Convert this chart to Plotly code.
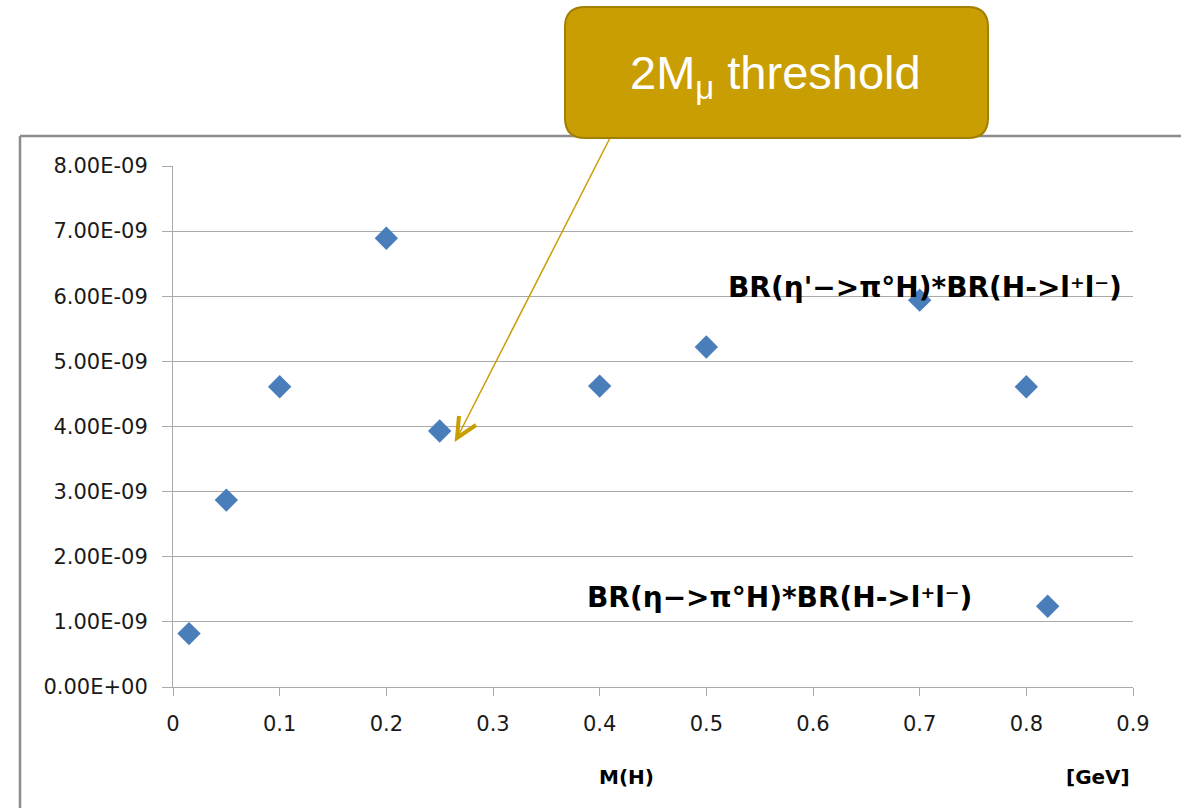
import plotly.graph_objects as go

# Branching-ratio estimates versus the mass of H
mass_gev = [0.015, 0.05, 0.1, 0.2, 0.25, 0.4, 0.5, 0.7, 0.8, 0.82]
branching = [0.82e-9, 2.87e-9, 4.61e-9, 6.89e-9, 3.93e-9,
             4.62e-9, 5.22e-9, 5.94e-9, 4.61e-9, 1.24e-9]

y_tick_vals = [0, 1e-9, 2e-9, 3e-9, 4e-9, 5e-9, 6e-9, 7e-9, 8e-9]
y_tick_text = ["0.00E+00", "1.00E-09", "2.00E-09", "3.00E-09", "4.00E-09",
               "5.00E-09", "6.00E-09", "7.00E-09", "8.00E-09"]
x_tick_vals = [0, 0.1, 0.2, 0.3, 0.4, 0.5, 0.6, 0.7, 0.8, 0.9]
x_tick_text = ["0", "0.1", "0.2", "0.3", "0.4", "0.5", "0.6", "0.7", "0.8", "0.9"]

W, H = 1181, 808


def px(x):
    return x / W


def py(y):
    return 1 - y / H


GOLD = "#C99E02"
GOLD_EDGE = "#A27F00"
GRID = "#A9A9A9"
FRAME = "#8C8C8C"

fig = go.Figure()
fig.add_trace(go.Scatter(
    x=mass_gev, y=branching, mode="markers",
    marker=dict(symbol="diamond", size=18, color="#4A7EBB",
                line=dict(width=0)),
    showlegend=False, hoverinfo="x+y",
))

tick_font = dict(family="DejaVu Sans", size=21, color="#1a1a1a")

fig.update_layout(
    width=W, height=H,
    margin=dict(l=0, r=0, t=0, b=0, autoexpand=False),
    paper_bgcolor="white", plot_bgcolor="white",
    xaxis=dict(
        domain=[px(173), px(1133)], range=[0, 0.9], automargin=False,
        tickvals=x_tick_vals, ticktext=x_tick_text,
        showgrid=False, zeroline=False,
        showline=True, linecolor=GRID, linewidth=1,
        ticks="outside", ticklen=8, tickcolor=GRID, tickwidth=1,
        tickfont=tick_font, ticklabelstandoff=10,
    ),
    yaxis=dict(
        domain=[py(687), py(166)], range=[0, 8e-9], automargin=False,
        tickvals=y_tick_vals, ticktext=y_tick_text,
        showgrid=True, gridcolor=GRID, gridwidth=1, zeroline=False,
        showline=True, linecolor=GRID, linewidth=1,
        ticks="outside", ticklen=10, tickcolor=GRID, tickwidth=1,
        tickfont=tick_font, ticklabelstandoff=10,
    ),
)

# Chart-area frame (left and top edges)
fig.add_shape(type="line", xref="paper", yref="paper",
              x0=px(20), y0=py(136), x1=px(1181), y1=py(136),
              line=dict(color=FRAME, width=2.5), layer="below")
fig.add_shape(type="line", xref="paper", yref="paper",
              x0=px(20), y0=py(136), x1=px(20), y1=py(808),
              line=dict(color=FRAME, width=2.5), layer="below")

# Callout pointer line and open arrowhead
fig.add_shape(type="line", xref="paper", yref="paper",
              x0=px(610), y0=py(138), x1=px(457), y1=py(438),
              line=dict(color=GOLD, width=1.5))
fig.add_shape(type="path", xref="paper", yref="paper",
              path=(f"M {px(459)},{py(416)} L {px(457)},{py(438)} "
                    f"L {px(476)},{py(425)}"),
              line=dict(color=GOLD, width=4))

# Rounded callout box
x0, x1, y0, y1, r = 565, 988, 7, 138, 20
path = (
    f"M {px(x0 + r)},{py(y0)} L {px(x1 - r)},{py(y0)} "
    f"Q {px(x1)},{py(y0)} {px(x1)},{py(y0 + r)} "
    f"L {px(x1)},{py(y1 - r)} "
    f"Q {px(x1)},{py(y1)} {px(x1 - r)},{py(y1)} "
    f"L {px(x0 + r)},{py(y1)} "
    f"Q {px(x0)},{py(y1)} {px(x0)},{py(y1 - r)} "
    f"L {px(x0)},{py(y0 + r)} "
    f"Q {px(x0)},{py(y0)} {px(x0 + r)},{py(y0)} Z"
)
fig.add_shape(type="path", xref="paper", yref="paper", path=path,
              fillcolor=GOLD, line=dict(color=GOLD_EDGE, width=2))

fig.add_annotation(
    xref="paper", yref="paper", x=px(775), y=py(76),
    text="2M<sub>μ</sub> threshold", showarrow=False,
    xanchor="center", yanchor="middle",
    font=dict(family="Liberation Sans", size=47, color="white"),
)

label_font = dict(family="DejaVu Sans", size=28, color="black", weight="bold")
fig.add_annotation(
    xref="paper", yref="paper", x=px(726), y=py(287),
    text="BR(η'−>π°H)*BR(H->l⁺l⁻)",
    showarrow=False, xanchor="left", yanchor="middle", font=label_font,
)
fig.add_annotation(
    xref="paper", yref="paper", x=px(585), y=py(597),
    text="BR(η−>π°H)*BR(H->l⁺l⁻)",
    showarrow=False, xanchor="left", yanchor="middle", font=label_font,
)

axis_title_font = dict(family="DejaVu Sans", size=20, color="black",
                       weight="bold")
fig.add_annotation(xref="paper", yref="paper", x=px(626), y=py(777),
                   text="M(H)", showarrow=False,
                   xanchor="center", yanchor="middle", font=axis_title_font)
fig.add_annotation(xref="paper", yref="paper", x=px(1098), y=py(777),
                   text="[GeV]", showarrow=False,
                   xanchor="center", yanchor="middle", font=axis_title_font)

fig.write_html("out.html")
